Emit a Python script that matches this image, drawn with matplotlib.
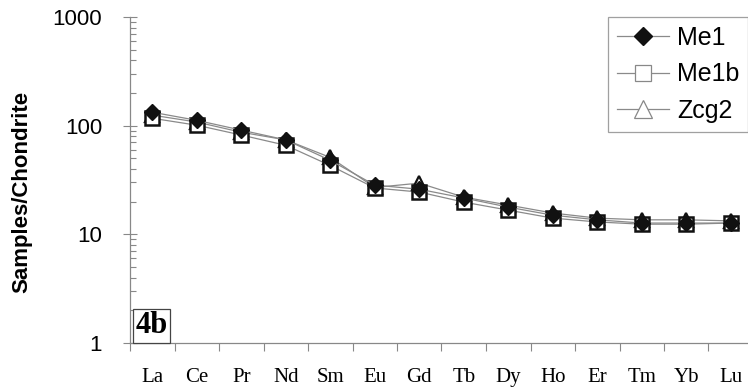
import matplotlib
matplotlib.use("Agg")
import matplotlib.pyplot as plt
from matplotlib.lines import Line2D
from matplotlib.ticker import LogLocator, NullFormatter, FixedLocator

# REE chondrite-normalised values
elements = ["La", "Ce", "Pr", "Nd", "Sm", "Eu", "Gd", "Tb", "Dy", "Ho", "Er", "Tm", "Yb", "Lu"]
me1 = [133, 112, 91, 74, 48, 28.4, 26, 21.6, 17.8, 15, 13.6, 12.7, 12.7, 12.7]
me1b = [117, 101, 82, 66, 43, 26.7, 24.5, 19.8, 16.7, 14.1, 13, 12.4, 12.4, 12.7]
zcg2 = [125, 108, 87, 74, 51, 27, 29.6, 22, 18.6, 15.7, 14.1, 13.6, 13.6, 13.3]

plt.rcParams['font.family'] = ['Liberation Sans', 'DejaVu Sans']

fig = plt.figure(figsize=(7.48, 3.91), dpi=100)
ax = fig.add_axes([130 / 748, 48 / 391, 623 / 748, 326 / 391])

x = list(range(len(elements)))
line_col = "#8a8a8a"
ax.plot(x, zcg2, color=line_col, lw=0.9, marker="^", ms=10.5, mfc="white", mec="#111111", mew=1.6, zorder=3)
ax.plot(x, me1b, color=line_col, lw=0.9, marker="s", ms=9.5, mfc="white", mec="#111111", mew=1.8, zorder=3)
ax.plot(x, me1, color=line_col, lw=0.9, marker="D", ms=8.5, mfc="#111111", mec="#111111", zorder=4)

ax.set_yscale("log")
ax.set_ylim(1, 1000)
ax.set_xlim(-0.5, len(elements) - 0.5)

# y axis ticks
ax.yaxis.set_major_locator(FixedLocator([1, 10, 100, 1000]))
ax.set_yticklabels(["1", "10", "100", "1000"])
ax.yaxis.set_minor_locator(LogLocator(base=10, subs=range(2, 10)))
ax.yaxis.set_minor_formatter(NullFormatter())
ax.tick_params(axis="y", which="major", direction="inout", length=10, width=0.8,
               color="#888888", labelsize=16, pad=15)
ax.tick_params(axis="y", which="minor", direction="in", length=4, width=0.8, color="#888888")

# x axis: labels at centres, ticks at boundaries
ax.set_xticks(x)
ax.set_xticklabels(elements, family=["Liberation Serif", "DejaVu Serif"], fontsize=15)
ax.set_xticks([i - 0.5 for i in range(len(elements) + 1)], minor=True)
ax.tick_params(axis="x", which="major", length=0, pad=18)
ax.tick_params(axis="x", which="minor", direction="out", length=6, width=0.8, color="#888888")

for side in ["top", "right"]:
    ax.spines[side].set_visible(False)
for side in ["left", "bottom"]:
    ax.spines[side].set_color("#888888")
    ax.spines[side].set_linewidth(0.9)

ax.set_ylabel("Samples/Chondrite", fontsize=16, fontweight="bold")
ax.yaxis.set_label_coords(-0.156, 0.463)

ax.text(0.009, 0.008, "4b", transform=ax.transAxes, ha="left", va="bottom",
        family=["Liberation Serif", "DejaVu Serif"], fontsize=22, fontweight="bold",
        bbox=dict(boxstyle="square,pad=0.08", fc="white", ec="#444444", lw=0.9), zorder=5)

handles = [
    Line2D([], [], color=line_col, lw=0.9, marker="D", ms=9, mfc="#111111", mec="#111111"),
    Line2D([], [], color=line_col, lw=0.9, marker="s", ms=12, mfc="white", mec="#888888", mew=0.9),
    Line2D([], [], color=line_col, lw=0.9, marker="^", ms=13, mfc="white", mec="#888888", mew=0.9),
]
leg = fig.legend(handles, ["Me1", "Me1b", "Zcg2"], loc="upper left",
                 bbox_to_anchor=(608 / 748, 1 - 17 / 391), fontsize=18, frameon=True,
                 fancybox=False, handlelength=2.1, borderpad=0.35, labelspacing=0.5,
                 handletextpad=0.3, borderaxespad=0)
leg.get_frame().set_edgecolor("#888888")
leg.get_frame().set_linewidth(0.9)

fig.savefig("out.png", dpi=100)
